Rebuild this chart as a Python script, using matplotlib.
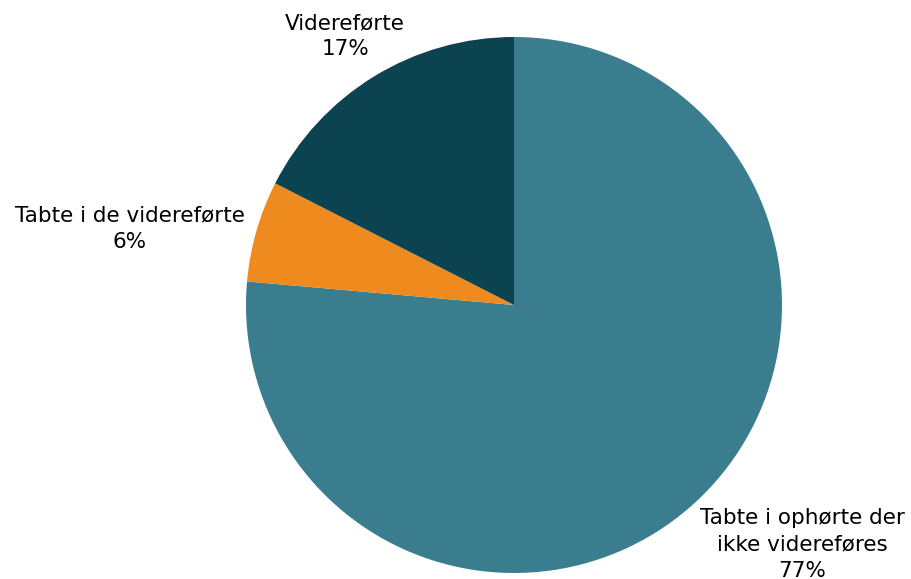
import matplotlib
matplotlib.use("Agg")
import matplotlib.pyplot as plt

# Andele af tabte / videreførte
labels = ["Tabte i ophørte der\nikke videreføres", "Tabte i de videreførte", "Videreførte"]
shares = [76.4, 6.1, 17.5]        # slice sizes
pct_labels = ["77%", "6%", "17%"]  # percentages as printed
colors = ["#397d8e", "#ee8a1e", "#0b4450"]

fig = plt.figure(figsize=(9.11, 5.79), dpi=100)
ax = fig.add_axes([(514 - 268) / 911, 6 / 579, 536 / 911, 536 / 579])

wedges, _ = ax.pie(shares, colors=colors, startangle=90, counterclock=False,
                   wedgeprops=dict(linewidth=0))
ax.set_xlim(-1, 1)
ax.set_ylim(-1, 1)
ax.set_aspect("auto")
ax.axis("off")

# label positions (data coords, radius = 1)
label_pos = [(1.075, -0.893), (-1.433, 0.285), (-0.63, 1.003)]
for lab, pct, (x, y) in zip(labels, pct_labels, label_pos):
    ax.text(x, y, f"{lab}\n{pct}", ha="center", va="center", fontsize=15.5,
            family="DejaVu Sans", linespacing=1.4, clip_on=False)

fig.savefig("out.png", dpi=100)
